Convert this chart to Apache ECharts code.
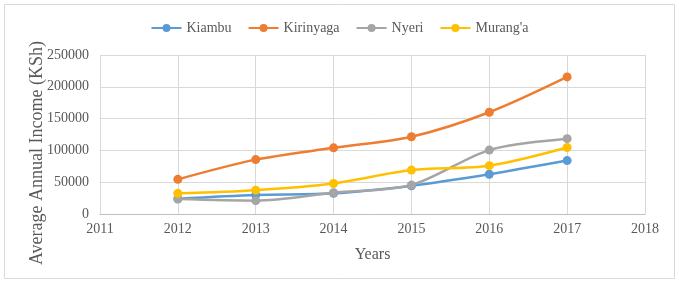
<!DOCTYPE html>
<html>
<head>
<meta charset="utf-8">
<script src="https://cdn.jsdelivr.net/npm/echarts@6/dist/echarts.min.js"></script>
<style>
  html, body { margin: 0; padding: 0; background: #fff; }
  #chart { width: 679px; height: 285px; }
</style>
</head>
<body>
<div id="chart"></div>
<script>
const years = [2012, 2013, 2014, 2015, 2016, 2017]
const kiambu = [24000, 30000, 32500, 44500, 62500, 84000]
const kirinyaga = [54500, 85500, 104000, 121500, 160000, 215500]
const nyeri = [23500, 21000, 33500, 45500, 100500, 118500]
const muranga = [32500, 37500, 48000, 69000, 76000, 104500]

const pairs = (vals) => years.map((y, i) => [y, vals[i]])

const chart = echarts.init(document.getElementById('chart'))
const mkSeries = (name, vals, color) => ({
  name: name,
  type: 'line',
  data: pairs(vals),
  smooth: 0.3,
  symbol: 'circle',
  symbolSize: 9,
  lineStyle: { width: 2.5, color: color },
  itemStyle: { color: color },
  emphasis: { disabled: true }
})

chart.setOption({
  animation: false,
  textStyle: { fontFamily: 'Liberation Serif' },
  graphic: [
    {
      type: 'rect',
      shape: { x: 4.5, y: 4.5, width: 670, height: 274 },
      style: { fill: 'none', stroke: '#d9d9d9', lineWidth: 1 }
    },
    {
      // y axis title
      type: 'text',
      x: 37,
      y: 153,
      rotation: Math.PI / 2,
      style: {
        text: 'Average Annual Income (KSh)',
        fontFamily: 'Liberation Serif',
        fontSize: 18,
        fill: '#595959',
        align: 'center',
        verticalAlign: 'middle'
      }
    }
  ],
  legend: {
    top: 16,
    left: 'center',
    itemWidth: 30,
    itemHeight: 10,
    itemGap: 16,
    textStyle: { fontFamily: 'Liberation Serif', fontSize: 14, color: '#595959' }
  },
  grid: { left: 100, right: 34, top: 55, bottom: 71 },
  xAxis: {
    type: 'value',
    min: 2011,
    max: 2018,
    interval: 1,
    name: 'Years',
    nameLocation: 'middle',
    nameGap: 33,
    nameTextStyle: { fontSize: 16, color: '#595959' },
    axisLine: { show: true, lineStyle: { color: '#bfbfbf' } },
    axisTick: { show: false },
    axisLabel: { fontSize: 14, color: '#595959', margin: 8, formatter: (v) => String(v) },
    splitLine: { show: true, lineStyle: { color: '#d9d9d9' } }
  },
  yAxis: {
    type: 'value',
    min: 0,
    max: 250000,
    interval: 50000,
    axisLine: { show: false },
    axisTick: { show: false },
    axisLabel: { fontSize: 14, color: '#595959', margin: 11, formatter: (v) => String(v) },
    splitLine: { show: true, lineStyle: { color: '#d9d9d9' } }
  },
  series: [
    mkSeries('Kiambu', kiambu, '#5B9BD5'),
    mkSeries('Kirinyaga', kirinyaga, '#ED7D31'),
    mkSeries('Nyeri', nyeri, '#A5A5A5'),
    mkSeries("Murang'a", muranga, '#FFC000')
  ]
})
</script>
</body>
</html>
